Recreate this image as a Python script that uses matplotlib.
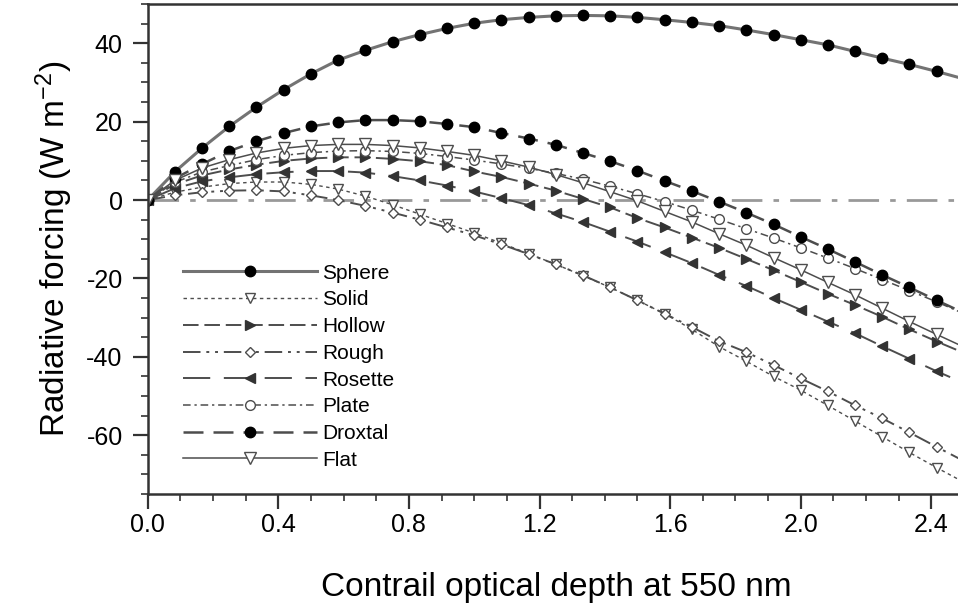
import matplotlib.pyplot as plt
from matplotlib.ticker import MultipleLocator

plt.rcParams['font.family'] = ['Liberation Sans', 'DejaVu Sans']
plt.rcParams['mathtext.fontset'] = 'custom'
plt.rcParams['mathtext.rm'] = 'Liberation Sans'
plt.rcParams['mathtext.it'] = 'Liberation Sans:italic'

# optical depth grid (steps of 1/12)
tau = [0.0, 0.083, 0.167, 0.25, 0.333, 0.417, 0.5, 0.583, 0.667, 0.75,
       0.833, 0.917, 1.0, 1.083, 1.167, 1.25, 1.333, 1.417, 1.5, 1.583,
       1.667, 1.75, 1.833, 1.917, 2.0, 2.083, 2.167, 2.25, 2.333, 2.417, 2.5]

sphere = [0, 7.2, 13.3, 18.8, 23.7, 28.2, 32.2, 35.7, 38.2, 40.4,
          42.2, 43.8, 45.1, 46.0, 46.6, 47.0, 47.1, 47.0, 46.6, 46.0,
          45.3, 44.5, 43.4, 42.2, 40.9, 39.6, 37.9, 36.2, 34.6, 32.8, 30.9]
solid = [0, 2.0, 3.3, 4.2, 4.6, 4.6, 4.0, 2.8, 1.0, -1.2,
         -3.6, -6.0, -8.4, -11.0, -13.7, -16.4, -19.3, -22.3, -25.6, -29.0,
         -33.0, -37.4, -41.1, -45.0, -48.5, -52.4, -56.4, -60.4, -64.4, -68.3, -72.0]
hollow = [0, 4.0, 6.3, 7.8, 9.0, 10.0, 10.6, 10.9, 10.9, 10.5,
          9.9, 8.9, 7.3, 5.9, 4.2, 2.4, 0.3, -1.9, -4.6, -7.0,
          -9.6, -12.2, -15.0, -17.9, -20.9, -23.9, -26.8, -29.8, -33.0, -36.1, -39.0]
rough = [0, 1.2, 2.0, 2.4, 2.5, 2.2, 1.2, 0.0, -1.5, -3.2,
         -5.0, -7.0, -9.0, -11.3, -13.8, -16.4, -19.2, -22.3, -25.6, -29.0,
         -32.4, -36.0, -38.8, -42.1, -45.5, -48.8, -52.4, -55.7, -59.3, -63.0, -66.6]
rosette = [0, 3.0, 4.8, 5.8, 6.6, 7.1, 7.4, 7.4, 7.0, 6.1,
           5.0, 3.7, 2.2, 0.5, -1.3, -3.4, -5.6, -8.1, -10.6, -13.3,
           -16.1, -19.1, -21.9, -25.0, -28.0, -31.0, -34.0, -37.3, -40.5, -43.7, -46.7]
plate = [0, 4.5, 7.2, 8.8, 10.3, 11.4, 12.1, 12.5, 12.6, 12.4,
         11.9, 11.1, 10.2, 9.2, 8.1, 6.8, 5.3, 3.5, 1.6, -0.4,
         -2.6, -4.9, -7.3, -9.7, -12.2, -14.8, -17.5, -20.3, -23.1, -26.0, -29.0]
droxtal = [0, 5.5, 9.2, 12.5, 15.0, 17.1, 18.8, 19.8, 20.4, 20.4,
           20.1, 19.4, 18.6, 17.1, 15.7, 14.1, 12.0, 9.9, 7.5, 4.9,
           2.3, -0.4, -3.2, -6.2, -9.4, -12.5, -15.8, -19.1, -22.3, -25.6, -28.8]
flat = [0, 5.0, 8.2, 10.3, 12.0, 13.2, 13.9, 14.2, 14.2, 13.9,
        13.3, 12.4, 11.4, 10.0, 8.4, 6.5, 4.4, 2.1, -0.2, -2.9,
        -5.6, -8.6, -11.5, -14.7, -17.8, -21.0, -24.2, -27.6, -31.0, -34.3, -37.5]

labels = ['Sphere', 'Solid', 'Hollow', 'Rough', 'Rosette', 'Plate', 'Droxtal', 'Flat']

fig = plt.figure(figsize=(9.58, 6.15), dpi=100)
ax = fig.add_axes([0.1542, 0.1967, 0.852, 0.7967])

lc = '0.3'
ax.axhline(0, color='0.6', lw=2, dashes=(11, 4, 2, 4), zorder=1)

ax.plot(tau, sphere, color='0.45', lw=2.2, marker='o', ms=7.5, mfc='black', mec='black',
        label=labels[0])
ax.plot(tau, solid, color=lc, lw=1.0, dashes=(2.5, 2.5), marker='v', ms=7.5, mfc='white',
        mec='0.3', mew=1.0, label=labels[1])
ax.plot(tau, hollow, color=lc, lw=1.4, dashes=(8, 3), marker='>', ms=7.5, mfc='0.2',
        mec='0.2', label=labels[2])
ax.plot(tau, rough, color=lc, lw=1.4, dashes=(9, 3, 1.5, 3, 1.5, 3), marker='D', ms=5.5,
        mfc='white', mec='0.3', mew=1.0, label=labels[3])
ax.plot(tau, rosette, color=lc, lw=1.4, dashes=(14, 7), marker='<', ms=7.5, mfc='0.2',
        mec='0.2', label=labels[4])
ax.plot(tau, plate, color=lc, lw=1.1, dashes=(5, 2.5, 1.5, 2.5), marker='o', ms=7,
        mfc='white', mec='0.3', mew=1.0, label=labels[5])
ax.plot(tau, droxtal, color=lc, lw=1.8, dashes=(8, 4), marker='o', ms=7.5, mfc='black',
        mec='black', label=labels[6])
ax.plot(tau, flat, color=lc, lw=1.1, marker='v', ms=8, mfc='white', mec='0.3', mew=1.0,
        label=labels[7])

ax.set_xlim(0, 2.5)
ax.set_ylim(-75, 50)
ax.xaxis.set_minor_locator(MultipleLocator(0.1))
ax.yaxis.set_minor_locator(MultipleLocator(5))
ax.set_xticks([0.0, 0.4, 0.8, 1.2, 1.6, 2.0, 2.4])
ax.set_xticklabels(['0.0', '0.4', '0.8', '1.2', '1.6', '2.0', '2.4'])
ax.set_yticks([40, 20, 0, -20, -40, -60])
ax.set_yticklabels(['40', '20', '0', '-20', '-40', '-60'])
ax.tick_params(which='major', length=11, width=1.6, color='0.2', labelsize=18)
ax.tick_params(axis='x', which='major', pad=3)
ax.tick_params(axis='y', which='major', pad=7)
ax.tick_params(which='minor', length=5, width=1.2, color='0.2')
for s in ax.spines.values():
    s.set_linewidth(1.8)
    s.set_color('0.2')

ax.set_xlabel('Contrail optical depth at 550 nm', fontsize=24, labelpad=25)
ax.set_ylabel('Radiative forcing (W m$^{-2}$)', fontsize=24, labelpad=8)

ax.legend(loc='upper left', bbox_to_anchor=(0.0436, 0.47), frameon=False, fontsize=15,
          handlelength=6.4, handletextpad=0.25, labelspacing=0.37, numpoints=1,
          borderpad=0, borderaxespad=0)

fig.savefig('out.png', dpi=100)
